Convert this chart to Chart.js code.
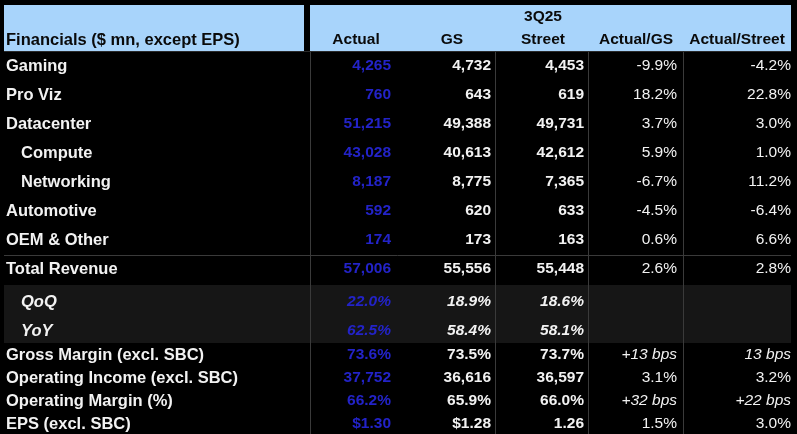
<!DOCTYPE html>
<html>
<head>
<meta charset="utf-8">
<script src="https://cdn.jsdelivr.net/npm/chart.js@4"></script>
<style>
  html, body { margin: 0; padding: 0; background: #000; }
</style>
</head>
<body>
<canvas id="myChart" width="797" height="434"></canvas>
<script>
'use strict';

// table data
const rowLabels = ['Gaming', 'Pro Viz', 'Datacenter', 'Compute', 'Networking', 'Automotive',
  'OEM & Other', 'Total Revenue', 'QoQ', 'YoY', 'Gross Margin (excl. SBC)',
  'Operating Income (excl. SBC)', 'Operating Margin (%)', 'EPS (excl. SBC)'];
const columnLabels = ['Actual', 'GS', 'Street', 'Actual/GS', 'Actual/Street'];
const actualValues = ['4,265', '760', '51,215', '43,028', '8,187', '592', '174', '57,006',
  '22.0%', '62.5%', '73.6%', '37,752', '66.2%', '$1.30'];
const gsValues = ['4,732', '643', '49,388', '40,613', '8,775', '620', '173', '55,556',
  '18.9%', '58.4%', '73.5%', '36,616', '65.9%', '$1.28'];
const streetValues = ['4,453', '619', '49,731', '42,612', '7,365', '633', '163', '55,448',
  '18.6%', '58.1%', '73.7%', '36,597', '66.0%', '1.26'];
const vsGsValues = ['-9.9%', '18.2%', '3.7%', '5.9%', '-6.7%', '-4.5%', '0.6%', '2.6%',
  '', '', '+13 bps', '3.1%', '+32 bps', '1.5%'];
const vsStreetValues = ['-4.2%', '22.8%', '3.0%', '1.0%', '11.2%', '-6.4%', '6.6%', '2.8%',
  '', '', '13 bps', '3.2%', '+22 bps', '3.0%'];

// layout (pixels in scale units)
const rowCenters = [66, 95, 124, 153, 182, 211, 240, 269, 302, 331, 355, 378, 401, 424];
const colRight = [391, 491, 584, 677, 791];
const indented = ['Compute', 'Networking'];
const italicRows = ['QoQ', 'YoY'];
const bpsCells = ['+13 bps', '13 bps', '+32 bps', '+22 bps'];

const FONT = '"Liberation Sans", Arial, sans-serif';

const tablePlugin = {
  id: 'tablePlugin',
  afterDraw(chart) {
    const ctx = chart.ctx;
    const x = chart.scales.x;
    const y = chart.scales.y;
    const px = v => x.getPixelForValue(v);
    const py = v => y.getPixelForValue(v);
    ctx.save();
    // background
    ctx.fillStyle = '#000';
    ctx.fillRect(px(0), py(0), px(797) - px(0), py(434) - py(0));
    // header bands
    ctx.fillStyle = '#a8d4fb';
    ctx.fillRect(px(4), py(5), px(304) - px(4), py(51) - py(5));
    ctx.fillRect(px(310), py(5), px(791) - px(310), py(51) - py(5));
    // QoQ / YoY band
    ctx.fillStyle = '#161616';
    ctx.fillRect(px(4), py(285), px(791) - px(4), py(343) - py(285));
    // grid lines
    ctx.strokeStyle = '#3a3a3a';
    ctx.lineWidth = 1;
    [310, 495, 588, 683].forEach(v => {
      ctx.beginPath();
      ctx.moveTo(px(v) + 0.5, py(51));
      ctx.lineTo(px(v) + 0.5, py(434));
      ctx.stroke();
    });
    ctx.beginPath();
    ctx.moveTo(px(4), py(255) + 0.5);
    ctx.lineTo(px(791), py(255) + 0.5);
    ctx.stroke();
    ctx.fillStyle = '#2a2a2a';
    ctx.fillRect(px(4), py(51), px(791) - px(4), 1);

    // header text
    ctx.fillStyle = '#0a0a0a';
    ctx.font = 'bold 16.5px ' + FONT;
    ctx.textBaseline = 'middle';
    ctx.textAlign = 'left';
    ctx.fillText('Financials ($ mn, except EPS)', px(6), py(40));
    ctx.textAlign = 'center';
    ctx.font = 'bold 15.5px ' + FONT;
    ctx.fillText('3Q25', px(543), py(17));
    const headerCenters = [356, 452, 543, 636, 737];
    columnLabels.forEach((c, i) => ctx.fillText(c, px(headerCenters[i]), py(40)));

    // body
    const cols = [actualValues, gsValues, streetValues, vsGsValues, vsStreetValues];
    rowLabels.forEach((label, r) => {
      const yy = py(rowCenters[r]);
      const ital = italicRows.includes(label);
      ctx.textAlign = 'left';
      ctx.fillStyle = '#f2f2f2';
      ctx.font = (ital ? 'italic ' : '') + 'bold 16.5px ' + FONT;
      const lx = indented.includes(label) || ital ? 21 : 6;
      ctx.fillText(label, px(lx), yy);
      ctx.textAlign = 'right';
      cols.forEach((col, c) => {
        const v = col[r];
        if (!v) return;
        let style = c < 3 ? 'bold ' : '';
        if (ital || bpsCells.includes(v)) style = 'italic ' + style;
        ctx.font = style + '15.5px ' + FONT;
        ctx.fillStyle = c === 0 ? '#2323c8' : '#f2f2f2';
        ctx.fillText(v, px(colRight[c]), yy);
      });
    });
    ctx.restore();
  }
};

new Chart(document.getElementById('myChart'), {
  type: 'scatter',
  data: { datasets: [{ data: [] }] },
  options: {
    responsive: false,
    animation: false,
    layout: { padding: 0 },
    plugins: { legend: { display: false }, tooltip: { enabled: false } },
    scales: {
      x: { type: 'linear', min: 0, max: 797, display: false },
      y: { type: 'linear', min: 0, max: 434, reverse: true, display: false }
    }
  },
  plugins: [tablePlugin]
});
</script>
</body>
</html>
